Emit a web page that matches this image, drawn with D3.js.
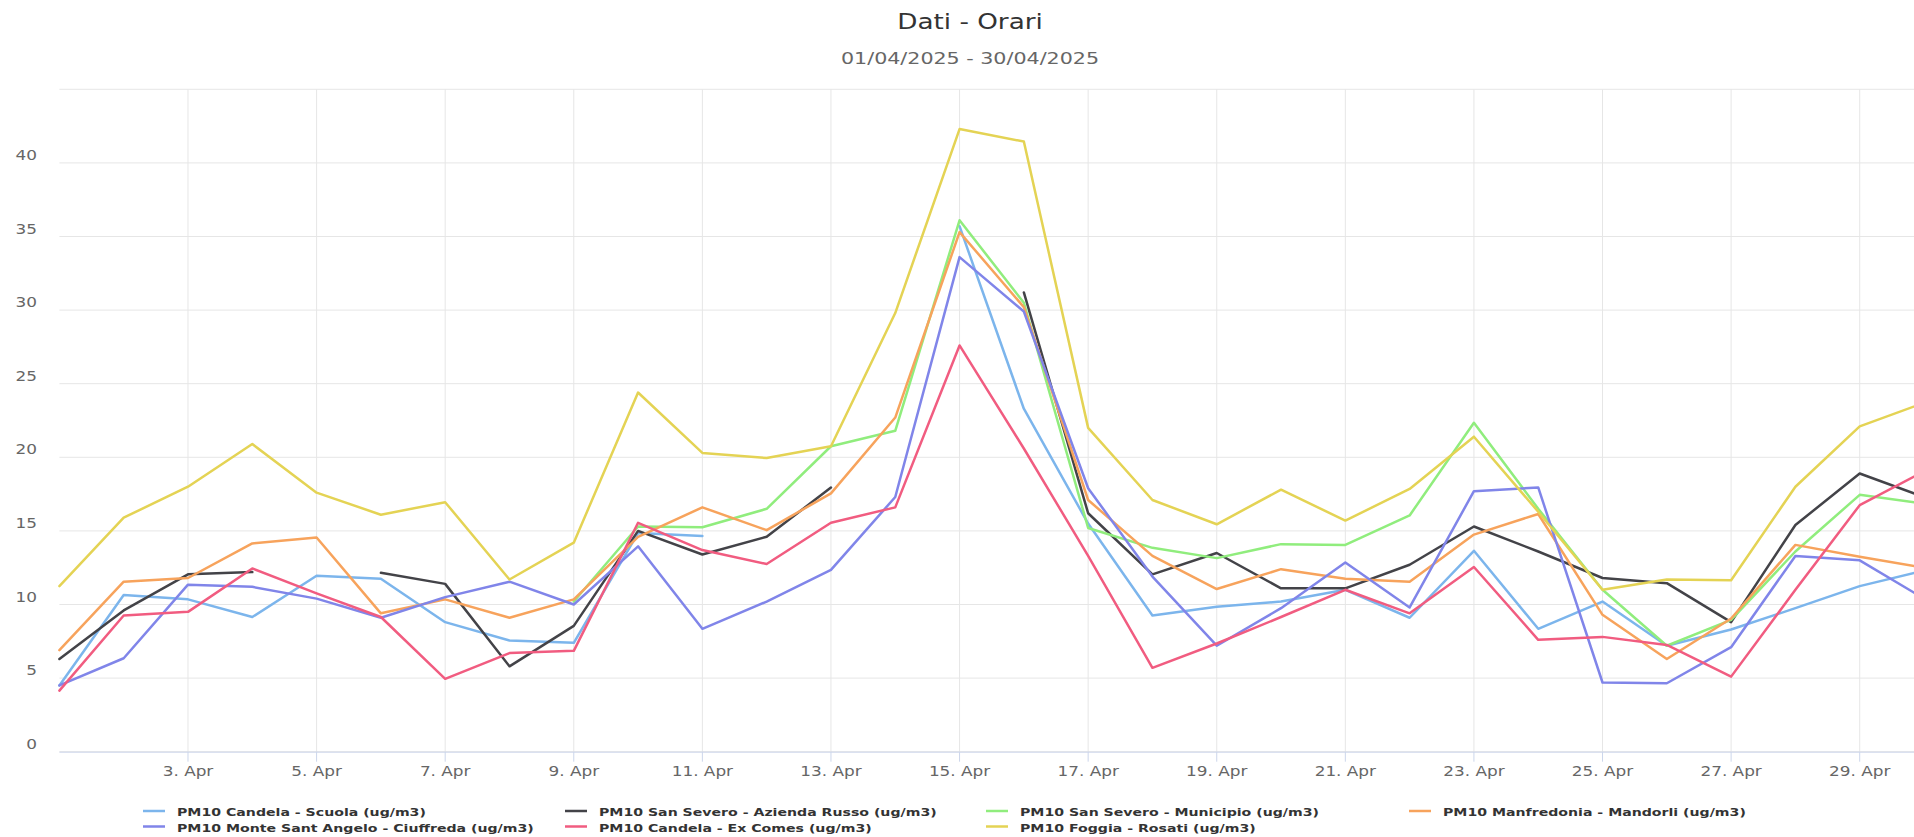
<!DOCTYPE html>
<html lang="it">
<head>
    <meta charset="UTF-8">
    <title>Dati - Orari</title>
    <script src="https://d3js.org/d3.v7.min.js"></script>
    <style>
        body {
            margin: 0;
            padding: 0;
            overflow: hidden;
            background: #fff;
            font-family: "DejaVu Sans", Verdana, sans-serif;
        }
        .grid line { stroke: #e6e6e6; stroke-width: 1px; }
        .series { fill: none; stroke-width: 2.5px; stroke-linejoin: round; stroke-linecap: round; }
    </style>
</head>
<body>
    <div id="chart"></div>

    <script>
        // daily means, 1..30 April 2025 (null = no data)
        const scuola    = [4.5, 10.65, 10.35, 9.15, 11.95, 11.75, 8.8, 7.55, 7.4, 14.85, 14.65, null, null, null, 35.7, 23.3, 15.5, 9.25, 9.85, 10.2, 11.0, 9.1, 13.65, 8.35, 10.2, 7.2, 8.3, 9.75, 11.25, 12.3];
        const russo     = [6.3, 9.6, 12.05, 12.2, null, 12.15, 11.4, 5.8, 8.55, 15.0, 13.4, 14.6, 17.95, null, null, 31.2, 16.2, 12.05, 13.5, 11.1, 11.1, 12.7, 15.3, 13.6, 11.8, 11.45, 8.8, 15.4, 18.9, 17.3];
        const municipio = [null, null, null, null, null, null, null, null, 10.2, 15.3, 15.25, 16.5, 20.75, 21.8, 36.1, 30.5, 15.2, 13.85, 13.15, 14.1, 14.05, 16.05, 22.35, 16.5, 11.0, 7.2, 8.95, 13.6, 17.45, 16.85];
        const mandorli  = [6.9, 11.55, 11.8, 14.15, 14.55, 9.4, 10.35, 9.1, 10.35, 14.6, 16.6, 15.05, 17.55, 22.7, 35.3, 30.2, 17.1, 13.3, 11.05, 12.4, 11.75, 11.55, 14.75, 16.15, 9.3, 6.3, 9.05, 14.05, 13.25, 12.5];
        const ciuffreda = [4.5, 6.35, 11.35, 11.2, 10.4, 9.1, 10.5, 11.55, 10.0, 13.95, 8.35, 10.2, 12.35, 17.3, 33.6, 29.9, 17.9, 11.9, 7.2, 9.75, 12.85, 9.8, 17.7, 17.95, 4.7, 4.65, 7.1, 13.3, 13.0, 10.4];
        const excomes   = [4.15, 9.25, 9.5, 12.45, 10.75, 9.15, 4.95, 6.7, 6.85, 15.55, 13.7, 12.75, 15.55, 16.6, 27.6, 20.6, 13.3, 5.7, 7.35, 9.15, 11.0, 9.4, 12.55, 7.6, 7.8, 7.25, 5.1, 11.0, 16.75, 19.05];
        const rosati    = [11.25, 15.9, 18.0, 20.9, 17.6, 16.1, 16.95, 11.7, 14.2, 24.4, 20.3, 19.95, 20.75, 29.8, 42.3, 41.45, 22.0, 17.1, 15.45, 17.8, 15.7, 17.85, 21.4, 16.3, 11.0, 11.7, 11.65, 18.0, 22.1, 23.7];

        const seriesNames = [
            "PM10 Candela - Scuola (ug/m3)",
            "PM10 San Severo - Azienda Russo (ug/m3)",
            "PM10 San Severo - Municipio (ug/m3)",
            "PM10 Manfredonia - Mandorli (ug/m3)",
            "PM10 Monte Sant Angelo - Ciuffreda (ug/m3)",
            "PM10 Candela - Ex Comes (ug/m3)",
            "PM10 Foggia - Rosati (ug/m3)"
        ];
        const seriesColors = ["#7cb5ec", "#434348", "#90ed7d", "#f7a35c", "#8085e9", "#f15c80", "#e4d354"];
        const seriesValues = [scuola, russo, municipio, mandorli, ciuffreda, excomes, rosati];

        const yTicks = [0, 5, 10, 15, 20, 25, 30, 35, 40, 45];
        const yLabels = [0, 5, 10, 15, 20, 25, 30, 35, 40];
        const xTickDays = [3, 5, 7, 9, 11, 13, 15, 17, 19, 21, 23, 25, 27, 29];

        const days = d3.timeDay.range(new Date(2025, 3, 1), new Date(2025, 4, 1));

        const width = 1940, height = 837;
        const plotLeft = 59.4, plotRight = 1924, plotTop = 89.3, plotBottom = 751.7;
        const SX = 1.25; // glyphs in the picture are wider than tall

        const svg = d3.select("#chart").append("svg")
            .attr("width", width)
            .attr("height", height);

        const x = d3.scaleTime().domain([days[0], days[days.length - 1]]).range([plotLeft, plotRight]);
        const y = d3.scaleLinear().domain([0, 45]).range([plotBottom, plotTop]);

        function label(g, txt, px, py, opts) {
            return g.append("text")
                .attr("transform", `translate(${px},${py}) scale(${SX},1)`)
                .attr("text-anchor", opts.anchor || "start")
                .style("font-size", opts.size + "px")
                .style("font-weight", opts.weight || "normal")
                .attr("fill", opts.fill)
                .text(txt);
        }

        // grid
        const grid = svg.append("g").attr("class", "grid");
        grid.selectAll(".h").data(yTicks).enter().append("line")
            .attr("x1", plotLeft).attr("x2", width)
            .attr("y1", d => y(d)).attr("y2", d => y(d));
        grid.selectAll(".v").data(xTickDays).enter().append("line")
            .attr("x1", d => x(days[d - 1])).attr("x2", d => x(days[d - 1]))
            .attr("y1", plotTop).attr("y2", plotBottom);

        // x axis line + ticks
        svg.append("line")
            .attr("x1", plotLeft).attr("x2", width)
            .attr("y1", plotBottom + 0.5).attr("y2", plotBottom + 0.5)
            .attr("stroke", "#ccd6eb");
        svg.selectAll(".tick").data(xTickDays).enter().append("line")
            .attr("x1", d => x(days[d - 1])).attr("x2", d => x(days[d - 1]))
            .attr("y1", plotBottom).attr("y2", plotBottom + 10)
            .attr("stroke", "#ccd6eb");

        const fmt = d3.timeFormat("%-d. %b");
        const axisLabels = svg.append("g");
        xTickDays.forEach(d => {
            label(axisLabels, fmt(days[d - 1]), x(days[d - 1]), 776, { anchor: "middle", size: 13.5, fill: "#666666" });
        });
        yLabels.forEach(v => {
            label(axisLabels, v, 37, y(v) - 3, { anchor: "end", size: 13.5, fill: "#666666" });
        });

        // lines
        const line = d3.line()
            .defined(d => d.v != null)
            .x(d => x(d.date))
            .y(d => y(d.v));

        seriesValues.forEach((vals, i) => {
            const pts = vals.map((v, j) => ({ date: days[j], v: v }));
            svg.append("path")
                .attr("class", "series")
                .attr("stroke", seriesColors[i])
                .attr("d", line(pts));
        });

        // titles
        label(svg, "Dati - Orari", 970, 29, { anchor: "middle", size: 21, fill: "#333333" });
        label(svg, "01/04/2025 - 30/04/2025", 970, 64, { anchor: "middle", size: 16.5, fill: "#666666" });

        // legend, 4 items per row
        const legendX = [177, 599, 1020, 1443];
        const legendY = [816, 831.5];
        const legend = svg.append("g");
        seriesNames.forEach((name, i) => {
            const lx = legendX[i % 4], ly = legendY[Math.floor(i / 4)];
            legend.append("line")
                .attr("x1", lx - 34).attr("x2", lx - 12)
                .attr("y1", ly - 5).attr("y2", ly - 5)
                .attr("stroke", seriesColors[i])
                .attr("stroke-width", 2.5);
            label(legend, name, lx, ly, { size: 11.3, weight: "bold", fill: "#333333" });
        });
    </script>
</body>
</html>
